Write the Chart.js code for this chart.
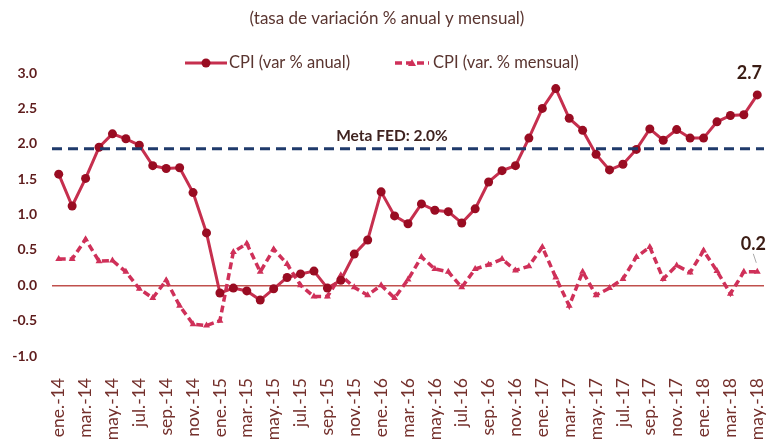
<!DOCTYPE html>
<html>
<head>
<meta charset="utf-8">
<script src="https://cdn.jsdelivr.net/npm/chart.js@4"></script>
<style>
html, body { margin: 0; padding: 0; background: #fff; }
</style>
</head>
<body>
<canvas id="cpiChart" width="776" height="448"></canvas>
<script>
// meses (ene-14 a may-18)
const meses = [
  "ene.-14","feb.-14","mar.-14","abr.-14","may.-14","jun.-14","jul.-14","ago.-14","sep.-14","oct.-14","nov.-14","dic.-14",
  "ene.-15","feb.-15","mar.-15","abr.-15","may.-15","jun.-15","jul.-15","ago.-15","sep.-15","oct.-15","nov.-15","dic.-15",
  "ene.-16","feb.-16","mar.-16","abr.-16","may.-16","jun.-16","jul.-16","ago.-16","sep.-16","oct.-16","nov.-16","dic.-16",
  "ene.-17","feb.-17","mar.-17","abr.-17","may.-17","jun.-17","jul.-17","ago.-17","sep.-17","oct.-17","nov.-17","dic.-17",
  "ene.-18","feb.-18","mar.-18","abr.-18","may.-18"
];

const cpiAnual = [
  1.57, 1.12, 1.51, 1.95, 2.14, 2.07, 1.98, 1.69, 1.65, 1.66, 1.31, 0.74,
  -0.11, -0.04, -0.08, -0.21, -0.05, 0.11, 0.16, 0.20, -0.04, 0.07, 0.44, 0.64,
  1.32, 0.98, 0.87, 1.15, 1.06, 1.04, 0.88, 1.08, 1.46, 1.62, 1.69, 2.08,
  2.50, 2.78, 2.36, 2.19, 1.85, 1.63, 1.71, 1.92, 2.21, 2.05, 2.20, 2.08,
  2.08, 2.31, 2.40, 2.41, 2.69
];

const cpiMensual = [
  0.37, 0.37, 0.65, 0.34, 0.35, 0.19, -0.05, -0.18, 0.07, -0.29, -0.55, -0.57,
  -0.50, 0.47, 0.59, 0.19, 0.51, 0.30, 0.00, -0.16, -0.16, 0.14, -0.03, -0.14,
  0.00, -0.18, 0.08, 0.40, 0.23, 0.19, -0.03, 0.23, 0.29, 0.37, 0.21, 0.27,
  0.54, 0.11, -0.29, 0.19, -0.14, -0.04, 0.09, 0.40, 0.54, 0.09, 0.28, 0.18,
  0.49, 0.20, -0.12, 0.19, 0.19
];

const yTicks = [-1.0, -0.5, 0.0, 0.5, 1.0, 1.5, 2.0, 2.5, 3.0];
const metaFed = 1.93; // linea punteada (se ve un poco bajo 2.0 en la imagen)

const colAnual = "#c62f4e";
const colAnualPt = "#990c22";
const colMensual = "#cf3059";
const colTexto = "#5a3530";

const extras = {
  id: "extras",
  afterDatasetsDraw(chart) {
    const ctx = chart.ctx;
    const ca = chart.chartArea;
    const xs = chart.scales.x, ys = chart.scales.y;
    ctx.save();

    // meta FED
    const yM = ys.getPixelForValue(metaFed);
    ctx.strokeStyle = "#1f3a6b";
    ctx.lineWidth = 3;
    ctx.setLineDash([10, 6]);
    ctx.beginPath();
    ctx.moveTo(ca.left, yM);
    ctx.lineTo(ca.right, yM);
    ctx.stroke();
    ctx.setLineDash([]);

    ctx.fillStyle = "#3f2320";
    ctx.font = "bold 15.5px Lato";
    ctx.textAlign = "center";
    ctx.textBaseline = "middle";
    ctx.fillText("Meta FED: 2.0%", 392, yM - 13);

    // ultimos valores
    const n = meses.length - 1;
    const xa = xs.getPixelForValue(n);
    const ya = ys.getPixelForValue(cpiAnual[n]);
    const ym = ys.getPixelForValue(cpiMensual[n]);
    ctx.fillStyle = "#3b1c14";
    ctx.font = "bold 18px Lato";
    ctx.fillText(cpiAnual[n].toFixed(1), xa - 8, ya - 22);
    ctx.fillText(cpiMensual[n].toFixed(1), xa - 4, ym - 28);
    ctx.strokeStyle = "#aaaaaa";
    ctx.lineWidth = 1;
    ctx.beginPath();
    ctx.moveTo(xa - 4, ym - 18);
    ctx.lineTo(xa - 1, ym - 9);
    ctx.stroke();

    // titulo
    ctx.fillStyle = colTexto;
    ctx.font = "17px Lato";
    ctx.fillText("(tasa de variación % anual y mensual)", 387, 19);

    // leyenda
    ctx.font = "16.5px Lato";
    ctx.textAlign = "left";
    ctx.strokeStyle = colAnual;
    ctx.lineWidth = 3;
    ctx.beginPath();
    ctx.moveTo(185, 63);
    ctx.lineTo(227, 63);
    ctx.stroke();
    ctx.fillStyle = colAnualPt;
    ctx.beginPath();
    ctx.arc(206, 63, 4.5, 0, Math.PI * 2);
    ctx.fill();
    ctx.fillStyle = colTexto;
    ctx.fillText("CPI (var % anual)", 229, 63);

    ctx.strokeStyle = colMensual;
    ctx.lineWidth = 3.5;
    ctx.setLineDash([7, 4]);
    ctx.beginPath();
    ctx.moveTo(395, 63);
    ctx.lineTo(429, 63);
    ctx.stroke();
    ctx.setLineDash([]);
    ctx.fillStyle = colMensual;
    ctx.beginPath();
    ctx.moveTo(412, 59);
    ctx.lineTo(416, 66);
    ctx.lineTo(408, 66);
    ctx.closePath();
    ctx.fill();
    ctx.fillStyle = colTexto;
    ctx.fillText("CPI (var. % mensual)", 433, 63);

    ctx.restore();
  }
};

const chart = new Chart(document.getElementById("cpiChart").getContext("2d"), {
  type: "line",
  data: {
    labels: meses,
    datasets: [
      {
        label: "CPI (var % anual)",
        data: cpiAnual,
        borderColor: colAnual,
        borderWidth: 3,
        pointRadius: 4.5,
        pointBackgroundColor: colAnualPt,
        pointBorderColor: colAnualPt,
        pointBorderWidth: 0,
        tension: 0
      },
      {
        label: "CPI (var. % mensual)",
        data: cpiMensual,
        borderColor: colMensual,
        borderWidth: 3.5,
        borderDash: [7, 4],
        pointStyle: "triangle",
        pointRadius: 4,
        pointBackgroundColor: colMensual,
        pointBorderColor: colMensual,
        pointBorderWidth: 0,
        tension: 0
      }
    ]
  },
  options: {
    responsive: false,
    animation: false,
    devicePixelRatio: 1,
    layout: { padding: { top: 73, right: 12, left: 0, bottom: 0 } },
    plugins: {
      legend: { display: false },
      title: { display: false },
      tooltip: { enabled: false }
    },
    scales: {
      x: {
        offset: true,
        grid: { display: false },
        border: { display: false },
        ticks: {
          autoSkip: false,
          maxRotation: 90,
          minRotation: 90,
          padding: 14,
          color: "#74302c",
          font: { family: "Lato", size: 17.5 },
          callback: (v, i) => (i % 2 === 0 ? meses[i] : "")
        },
        afterFit: (s) => { s.height = 92; s.paddingLeft = 0; s.paddingRight = 0; }
      },
      y: {
        min: -1,
        max: 3,
        afterBuildTicks: (s) => { s.ticks = yTicks.map(v => ({ value: v })); },
        grid: {
          drawTicks: false,
          color: (c) => (c.tick && c.tick.value === 0 ? "#c0504d" : "rgba(0,0,0,0)"),
          lineWidth: 1.5
        },
        border: { display: false },
        ticks: {
          padding: 15,
          color: "#5e1c1c",
          font: { family: "Lato", size: 14, weight: "bold" },
          callback: (v) => Number(v).toFixed(1)
        },
        afterFit: (s) => { s.width = 52; }
      }
    }
  },
  plugins: [extras]
});
</script>
</body>
</html>
